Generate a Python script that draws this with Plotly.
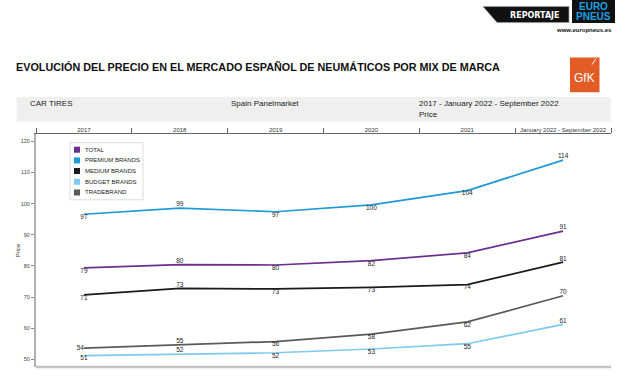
import plotly.graph_objects as go

# ---------------- data ----------------
categories = ["2017", "2018", "2019", "2020", "2021", "January 2022 - September 2022"]
series_names = ["TOTAL", "PREMIUM BRANDS", "MEDIUM BRANDS", "BUDGET BRANDS", "TRADEBRAND"]
total = [79.4, 80.4, 80.3, 81.7, 84.2, 91.2]
premium = [96.6, 98.6, 97.4, 99.6, 104.2, 114.0]
medium = [70.7, 72.8, 72.6, 73.1, 74.0, 81.2]
budget = [51.2, 51.7, 52.1, 53.3, 55.0, 61.2]
tradebrand = [53.6, 54.7, 55.7, 58.1, 62.0, 70.4]
y_ticks = [50, 60, 70, 80, 90, 100, 110, 120]

header_left = "CAR TIRES"
header_mid = "Spain Panelmarket"
header_right = "2017 - January 2022 - September 2022"
header_right2 = "Price"
title_text = "EVOLUCIÓN DEL PRECIO EN EL MERCADO ESPAÑOL DE NEUMÁTICOS POR MIX DE MARCA"

# ---------------- styles ----------------
colors = ["#6B2F8E", "#1E9AD6", "#1A1A1A", "#7DCBF0", "#5A5A5A"]
below_above = ["bottom center", "top center", "bottom center", "bottom center", "bottom center", "top center"]
trade_pos = ["middle left", "top center", "bottom center", "bottom center", "bottom center", "top center"]
positions = [below_above, below_above, below_above, below_above, trade_pos]
values = [total, premium, medium, budget, tradebrand]

W, H = 624, 378
L, R, T, B = 36, 611, 134.3, 367


def px(x):
    return (x - L) / (R - L)


def py(y):
    return (B - y) / (B - T)


fig = go.Figure()
for i in [4, 3, 2, 0, 1]:
    fig.add_trace(go.Scatter(
        x=categories, y=values[i], name=series_names[i],
        mode="lines+text",
        line=dict(color=colors[i], width=1.7),
        text=[f"{v:.0f}" for v in values[i]],
        textposition=positions[i],
        textfont=dict(family="Liberation Sans, Arial", size=6.5, color="#222"),
        showlegend=False, cliponaxis=False,
    ))

shapes = []
annotations = []

# bottom axis line
shapes.append(dict(type="line", xref="paper", yref="paper", x0=0, x1=1, y0=0, y1=0,
                   line=dict(color="#c4c4c4", width=2.5), layer="above"))

# header band
shapes.append(dict(type="rect", xref="paper", yref="paper", x0=px(16.7), x1=px(610.7),
                   y0=py(121.7), y1=py(97.3), fillcolor="#efefef", line=dict(width=0), layer="below"))
hfont = dict(family="Liberation Sans, Arial", size=8, color="#222")
for txt, x, y in [(header_left, 28, 104), (header_mid, 229, 104), (header_right, 417.3, 104), (header_right2, 417.3, 115)]:
    annotations.append(dict(text=txt, xref="paper", yref="paper", x=px(x), y=py(y), xanchor="left",
                            yanchor="middle", showarrow=False, font=hfont))

# title
annotations.append(dict(text="<b>" + title_text + "</b>", xref="paper", yref="paper", x=px(14), y=py(67),
                        xanchor="left", yanchor="middle", showarrow=False,
                        font=dict(family="Liberation Sans, Arial", size=10.8, color="#111")))

# legend (manual)
shapes.append(dict(type="rect", xref="paper", yref="paper", x0=px(70), x1=px(143), y0=py(200), y1=py(143),
                   fillcolor="white", line=dict(color="#dddddd", width=1), layer="above"))
row_y = [150, 160.7, 171.3, 182, 192.7]
for i, name in enumerate(series_names):
    shapes.append(dict(type="rect", xref="paper", yref="paper", x0=px(74), x1=px(80), y0=py(row_y[i] + 3),
                       y1=py(row_y[i] - 3), fillcolor=colors[i], line=dict(width=0), layer="above"))
    annotations.append(dict(text=name, xref="paper", yref="paper", x=px(83), y=py(row_y[i]), xanchor="left",
                            yanchor="middle", showarrow=False,
                            font=dict(family="Liberation Sans, Arial", size=6, color="#222")))

# Europneus / Reportaje logos
shapes.append(dict(type="path", xref="paper", yref="paper",
                   path=f"M {px(483)},{py(7)} L {px(569)},{py(7)} L {px(569)},{py(23)} L {px(497)},{py(23)} Z",
                   fillcolor="#111", line=dict(color="#999", width=0.8), layer="above"))
annotations.append(dict(text="<b>REPORTAJE</b>", xref="paper", yref="paper", x=px(535), y=py(15.5),
                        xanchor="center", yanchor="middle", showarrow=False,
                        font=dict(family="DejaVu Sans", size=8, color="white")))
shapes.append(dict(type="rect", xref="paper", yref="paper", x0=px(572), x1=px(615), y0=py(23.5), y1=py(0),
                   fillcolor="#111", line=dict(width=0), layer="above"))
for txt, y in [("EURO", 6.5), ("PNEUS", 16.5)]:
    annotations.append(dict(text="<b>" + txt + "</b>", xref="paper", yref="paper", x=px(593.5), y=py(y),
                            xanchor="center", yanchor="middle", showarrow=False,
                            font=dict(family="Liberation Sans, Arial", size=10, color="#1EA0E0")))
annotations.append(dict(text="<b>www.europneus.es</b>", xref="paper", yref="paper", x=px(614), y=py(30.5),
                        xanchor="right", yanchor="middle", showarrow=False,
                        font=dict(family="Liberation Sans, Arial", size=6, color="#111")))

# GfK logo
shapes.append(dict(type="rect", xref="paper", yref="paper", x0=px(570), x1=px(599.5), y0=py(92.5), y1=py(58),
                   fillcolor="#E35B25", line=dict(width=0), layer="above"))
shapes.append(dict(type="line", xref="paper", yref="paper", x0=px(592), x1=px(596), y0=py(65), y1=py(59),
                   line=dict(color="white", width=1), layer="above"))
annotations.append(dict(text="GfK", xref="paper", yref="paper", x=px(584.5), y=py(78), xanchor="center",
                        yanchor="middle", showarrow=False,
                        font=dict(family="Liberation Sans, Arial", size=12, color="white")))

fig.update_layout(
    width=W, height=H,
    margin=dict(l=L, r=W - R, t=T, b=H - B, autoexpand=False),
    paper_bgcolor="white", plot_bgcolor="white",
    showlegend=False,
    shapes=shapes, annotations=annotations,
    xaxis=dict(type="category", side="top", categoryorder="array", categoryarray=categories,
               range=[-0.5, len(categories) - 0.5],
               tickson="boundaries", ticks="outside", ticklen=5, tickcolor="#666", tickwidth=1,
               showline=True, linecolor="#666", linewidth=1, showgrid=False, zeroline=False,
               tickfont=dict(family="Liberation Sans, Arial", size=6, color="#333"),
               ticklabelstandoff=-1, fixedrange=True),
    yaxis=dict(range=[47.52, 122.39], tickvals=y_ticks, ticks="outside", ticklen=3, tickcolor="#888",
               showline=True, linecolor="#b0b0b0", linewidth=2, showgrid=False, zeroline=False,
               tickfont=dict(family="Liberation Sans, Arial", size=5.5, color="#444"),
               title=dict(text="Price", font=dict(family="Liberation Sans, Arial", size=6, color="#333"), standoff=0),
               fixedrange=True),
)

fig.write_html("out.html", config={"displayModeBar": False},
               post_script="document.body.style.margin='0';")
